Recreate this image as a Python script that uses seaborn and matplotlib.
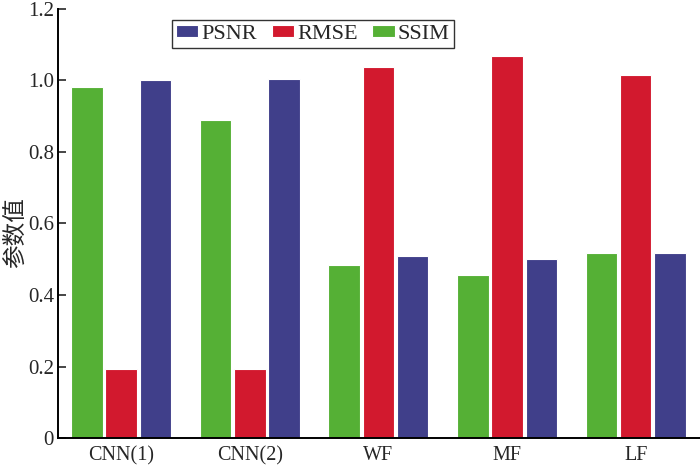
import matplotlib
matplotlib.use("Agg")
import matplotlib.pyplot as plt
import seaborn as sns
import pandas as pd

categories = ["CNN(1)", "CNN(2)", "WF", "MF", "LF"]
ssim = [0.983, 0.888, 0.483, 0.455, 0.517]
rmse = [0.193, 0.193, 1.039, 1.067, 1.014]
psnr = [1.000, 1.003, 0.508, 0.500, 0.517]
yticks = [0, 0.2, 0.4, 0.6, 0.8, 1.0, 1.2]
ytick_labels = ["0", "0.2", "0.4", "0.6", "0.8", "1.0", "1.2"]

df = pd.DataFrame({
    "cat": categories * 3,
    "metric": ["SSIM"] * 5 + ["RMSE"] * 5 + ["PSNR"] * 5,
    "value": ssim + rmse + psnr,
})

sns.set_style("white")
plt.rcParams["font.family"] = ["Liberation Serif", "Noto Sans CJK SC"]

palette = {"SSIM": "#55B035", "RMSE": "#D2192E", "PSNR": "#403F8A"}

fig = plt.figure(figsize=(7, 4.7), dpi=100)
ax = fig.add_axes([0.083, 0.068, 0.917, 0.913])
sns.barplot(data=df, x="cat", y="value", hue="metric",
            hue_order=["SSIM", "RMSE", "PSNR"], palette=palette,
            width=0.8, gap=0.08, edgecolor="white", linewidth=0.8,
            ax=ax, saturation=1)

ax.set_xlim(-0.49, 4.5)
ax.set_ylim(0, 1.2)
ax.set_yticks(yticks)
ax.set_yticklabels(ytick_labels)
ax.set_xlabel("")
ax.set_ylabel("参数值", family=["Noto Sans CJK SC"], fontsize=17)
ax.yaxis.set_label_coords(-0.085, 0.48)
ax.yaxis.label.set_va("top")
ax.tick_params(axis="y", direction="in", length=6, width=1.2, labelsize=15, pad=3, left=True)
ax.tick_params(axis="x", length=0, labelsize=14.5, pad=6)
for s in ["top", "right"]:
    ax.spines[s].set_visible(False)
for s in ["left", "bottom"]:
    ax.spines[s].set_color("black")
    ax.spines[s].set_linewidth(1.4)

handles, labels = ax.get_legend_handles_labels()
order = [labels.index(l) for l in ["PSNR", "RMSE", "SSIM"]]
leg = ax.legend([handles[i] for i in order], [labels[i] for i in order],
                loc="upper left", bbox_to_anchor=(0.177, 0.974), ncol=3,
                frameon=True, fancybox=False, fontsize=16,
                handlelength=1.0, handleheight=0.5, columnspacing=0.65,
                handletextpad=0.15, borderpad=0.2, borderaxespad=0)
leg.get_frame().set_edgecolor("black")
leg.get_frame().set_linewidth(1.0)

fig.savefig("out.png", dpi=100)
